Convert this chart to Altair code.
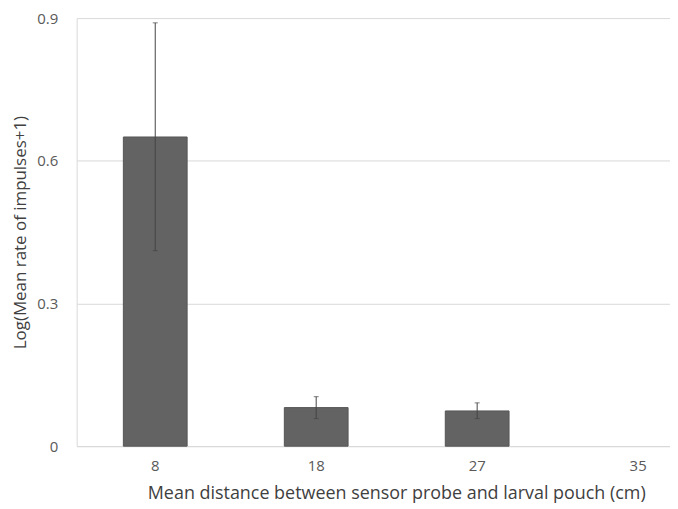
import altair as alt
import pandas as pd

distances = ["8", "18", "27", "35"]
means = [0.65, 0.081, 0.074, 0.0]
err_low = [0.411, 0.058, 0.058, 0.0]
err_high = [0.89, 0.104, 0.091, 0.0]

df = pd.DataFrame({"d": distances, "m": means, "lo": err_low, "hi": err_high})
df_nz = df[df["m"] > 0]

FONT = "Open Sans"
x_scale = alt.Scale(domain=distances, paddingInner=0.604, paddingOuter=0.145, align=1)
x = alt.X("d:N", sort=distances, scale=x_scale,
          title="Mean distance between sensor probe and larval pouch (cm)",
          axis=alt.Axis(labelAngle=0, ticks=False, domainColor="#d9d9d9",
                        labelPadding=12, titlePadding=12, labelFontSize=15,
                        labelColor="#595959", titleFontSize=18, titleColor="#404040",
                        titleFontWeight="normal", labelFont=FONT, titleFont=FONT,
                        titleX=321, titleAlign="center"))
y_scale = alt.Scale(domain=[0, 0.9], nice=False)

bars = alt.Chart(df_nz).mark_bar(color="#636363", stroke="#555555", strokeWidth=1).encode(
    x=x,
    y=alt.Y("m:Q", scale=y_scale, title="Log(Mean rate of impulses+1)",
            axis=alt.Axis(values=[0, 0.3, 0.6, 0.9], format=".1~f", ticks=False,
                          domainColor="#d9d9d9", gridColor="#d9d9d9", labelPadding=19,
                          titlePadding=7, labelFontSize=15, labelColor="#595959",
                          titleFontSize=17, titleColor="#404040", titleFontWeight="normal",
                          labelFont=FONT, titleFont=FONT)),
)
rules = alt.Chart(df_nz).mark_rule(color="#444444", strokeWidth=1).encode(
    x=alt.X("d:N", sort=distances, scale=x_scale), y=alt.Y("lo:Q", scale=y_scale), y2="hi:Q")
cap_lo = alt.Chart(df_nz).mark_tick(color="#444444", size=5, thickness=1).encode(
    x=alt.X("d:N", sort=distances, scale=x_scale), y=alt.Y("lo:Q", scale=y_scale))
cap_hi = alt.Chart(df_nz).mark_tick(color="#444444", size=5, thickness=1).encode(
    x=alt.X("d:N", sort=distances, scale=x_scale), y=alt.Y("hi:Q", scale=y_scale))

chart = (bars + rules + cap_lo + cap_hi).properties(
    width=596, height=430,
    autosize=alt.AutoSizeParams(type="none"),
    padding={"left": 69, "top": 9, "right": 0, "bottom": 60},
).configure_view(stroke=None).configure_axis(labelFont=FONT, titleFont=FONT)

chart.save("out.html", embed_options={"renderer": "svg", "actions": False})
